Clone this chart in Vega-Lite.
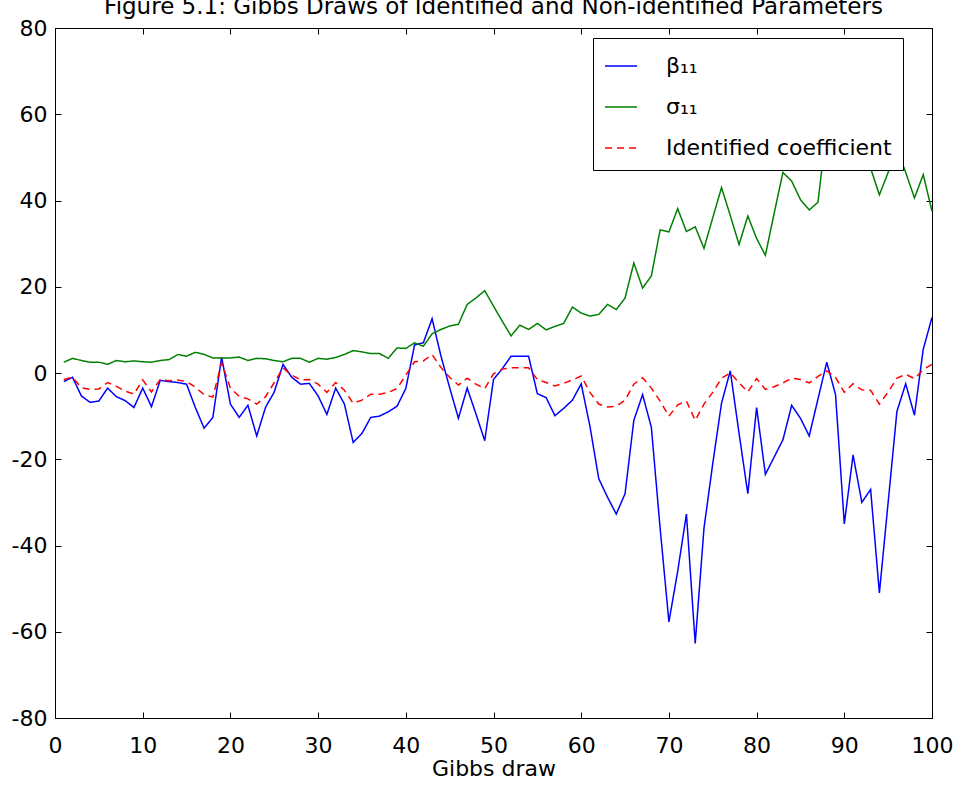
{
  "$schema": "https://vega.github.io/schema/vega-lite/v6.json",
  "width": 877,
  "height": 690,
  "autosize": {"type": "none"},
  "padding": {"left": 55, "top": 28, "right": 28, "bottom": 77},
  "background": "white",
  "title": {"text": "Figure 5.1: Gibbs Draws of Identified and Non-identified Parameters", "fontSize": 23, "font": "DejaVu Sans", "fontWeight": "normal", "color": "black", "offset": 9, "dy": 11, "anchor": "middle"},
  "datasets": {
    "beta": [
      {"draw":1,"value":-2.0},{"draw":2,"value":-1.0},{"draw":3,"value":-5.3},{"draw":4,"value":-6.8},{"draw":5,"value":-6.5},{"draw":6,"value":-3.5},{"draw":7,"value":-5.5},{"draw":8,"value":-6.4},{"draw":9,"value":-8.0},{"draw":10,"value":-3.5},
      {"draw":11,"value":-7.8},{"draw":12,"value":-1.7},{"draw":13,"value":-2.0},{"draw":14,"value":-2.2},{"draw":15,"value":-2.6},{"draw":16,"value":-8.0},{"draw":17,"value":-12.8},{"draw":18,"value":-10.3},{"draw":19,"value":3.7},{"draw":20,"value":-7.2},
      {"draw":21,"value":-10.3},{"draw":22,"value":-7.5},{"draw":23,"value":-14.6},{"draw":24,"value":-8.0},{"draw":25,"value":-4.4},{"draw":26,"value":2.0},{"draw":27,"value":-1.0},{"draw":28,"value":-2.6},{"draw":29,"value":-2.4},{"draw":30,"value":-5.3},
      {"draw":31,"value":-9.6},{"draw":32,"value":-3.5},{"draw":33,"value":-7.2},{"draw":34,"value":-16.1},{"draw":35,"value":-14.0},{"draw":36,"value":-10.3},{"draw":37,"value":-10.0},{"draw":38,"value":-9.0},{"draw":39,"value":-7.7},{"draw":40,"value":-3.6},
      {"draw":41,"value":6.5},{"draw":42,"value":7.0},{"draw":43,"value":12.6},{"draw":44,"value":4.0},{"draw":45,"value":-3.4},{"draw":46,"value":-10.5},{"draw":47,"value":-3.5},{"draw":48,"value":-9.5},{"draw":49,"value":-15.7},{"draw":50,"value":-1.5},
      {"draw":51,"value":1.0},{"draw":52,"value":3.9},{"draw":53,"value":3.9},{"draw":54,"value":3.9},{"draw":55,"value":-4.8},{"draw":56,"value":-5.7},{"draw":57,"value":-9.9},{"draw":58,"value":-8.2},{"draw":59,"value":-6.3},{"draw":60,"value":-2.5},
      {"draw":61,"value":-12.4},{"draw":62,"value":-24.5},{"draw":63,"value":-28.8},{"draw":64,"value":-32.7},{"draw":65,"value":-28.0},{"draw":66,"value":-11.0},{"draw":67,"value":-5.0},{"draw":68,"value":-12.6},{"draw":69,"value":-36.0},{"draw":70,"value":-57.7},
      {"draw":71,"value":-46.0},{"draw":72,"value":-32.7},{"draw":73,"value":-62.7},{"draw":74,"value":-36.0},{"draw":75,"value":-21.0},{"draw":76,"value":-7.0},{"draw":77,"value":0.5},{"draw":78,"value":-14.0},{"draw":79,"value":-28.0},{"draw":80,"value":-8.0},
      {"draw":81,"value":-23.5},{"draw":82,"value":-19.5},{"draw":83,"value":-15.5},{"draw":84,"value":-7.5},{"draw":85,"value":-10.5},{"draw":86,"value":-14.6},{"draw":87,"value":-6.0},{"draw":88,"value":2.5},{"draw":89,"value":-5.0},{"draw":90,"value":-35.0},
      {"draw":91,"value":-19.0},{"draw":92,"value":-30.0},{"draw":93,"value":-27.0},{"draw":94,"value":-51.0},{"draw":95,"value":-30.0},{"draw":96,"value":-8.9},{"draw":97,"value":-2.5},{"draw":98,"value":-9.8},{"draw":99,"value":5.5},{"draw":100,"value":12.9}
    ],
    "sigma": [
      {"draw":1,"value":2.5},{"draw":2,"value":3.4},{"draw":3,"value":2.9},{"draw":4,"value":2.5},{"draw":5,"value":2.5},{"draw":6,"value":2.0},{"draw":7,"value":2.9},{"draw":8,"value":2.6},{"draw":9,"value":2.8},{"draw":10,"value":2.6},
      {"draw":11,"value":2.5},{"draw":12,"value":2.9},{"draw":13,"value":3.1},{"draw":14,"value":4.3},{"draw":15,"value":3.9},{"draw":16,"value":4.8},{"draw":17,"value":4.3},{"draw":18,"value":3.5},{"draw":19,"value":3.5},{"draw":20,"value":3.5},
      {"draw":21,"value":3.7},{"draw":22,"value":2.9},{"draw":23,"value":3.4},{"draw":24,"value":3.3},{"draw":25,"value":2.9},{"draw":26,"value":2.6},{"draw":27,"value":3.4},{"draw":28,"value":3.4},{"draw":29,"value":2.5},{"draw":30,"value":3.4},
      {"draw":31,"value":3.2},{"draw":32,"value":3.6},{"draw":33,"value":4.3},{"draw":34,"value":5.2},{"draw":35,"value":4.9},{"draw":36,"value":4.5},{"draw":37,"value":4.5},{"draw":38,"value":3.4},{"draw":39,"value":5.8},{"draw":40,"value":5.7},
      {"draw":41,"value":7.0},{"draw":42,"value":6.2},{"draw":43,"value":9.1},{"draw":44,"value":10.1},{"draw":45,"value":10.9},{"draw":46,"value":11.3},{"draw":47,"value":15.9},{"draw":48,"value":17.4},{"draw":49,"value":19.1},{"draw":50,"value":15.5},
      {"draw":51,"value":12.0},{"draw":52,"value":8.6},{"draw":53,"value":11.1},{"draw":54,"value":10.1},{"draw":55,"value":11.5},{"draw":56,"value":10.0},{"draw":57,"value":10.8},{"draw":58,"value":11.5},{"draw":59,"value":15.3},{"draw":60,"value":13.9},
      {"draw":61,"value":13.2},{"draw":62,"value":13.6},{"draw":63,"value":15.9},{"draw":64,"value":14.7},{"draw":65,"value":17.4},{"draw":66,"value":25.5},{"draw":67,"value":19.7},{"draw":68,"value":22.5},{"draw":69,"value":33.2},{"draw":70,"value":32.7},
      {"draw":71,"value":38.1},{"draw":72,"value":32.8},{"draw":73,"value":33.9},{"draw":74,"value":28.9},{"draw":75,"value":36.0},{"draw":76,"value":43.0},{"draw":77,"value":36.5},{"draw":78,"value":29.8},{"draw":79,"value":36.4},{"draw":80,"value":31.2},
      {"draw":81,"value":27.3},{"draw":82,"value":37.0},{"draw":83,"value":46.5},{"draw":84,"value":44.5},{"draw":85,"value":40.2},{"draw":86,"value":37.8},{"draw":87,"value":39.6},{"draw":88,"value":57.0},{"draw":89,"value":54.0},{"draw":90,"value":51.0},
      {"draw":91,"value":56.0},{"draw":92,"value":54.0},{"draw":93,"value":47.5},{"draw":94,"value":41.3},{"draw":95,"value":46.5},{"draw":96,"value":52.0},{"draw":97,"value":46.5},{"draw":98,"value":40.6},{"draw":99,"value":46.0},{"draw":100,"value":37.5}
    ],
    "ident": [
      {"draw":1,"value":-1.5},{"draw":2,"value":-1.0},{"draw":3,"value":-3.4},{"draw":4,"value":-3.8},{"draw":5,"value":-3.7},{"draw":6,"value":-2.2},{"draw":7,"value":-3.1},{"draw":8,"value":-4.2},{"draw":9,"value":-4.9},{"draw":10,"value":-1.6},
      {"draw":11,"value":-4.4},{"draw":12,"value":-1.5},{"draw":13,"value":-1.8},{"draw":14,"value":-1.6},{"draw":15,"value":-2.0},{"draw":16,"value":-3.3},{"draw":17,"value":-5.0},{"draw":18,"value":-5.6},{"draw":19,"value":2.4},{"draw":20,"value":-3.5},
      {"draw":21,"value":-5.4},{"draw":22,"value":-6.0},{"draw":23,"value":-7.2},{"draw":24,"value":-5.5},{"draw":25,"value":-2.2},{"draw":26,"value":1.2},{"draw":27,"value":-0.5},{"draw":28,"value":-1.6},{"draw":29,"value":-1.5},{"draw":30,"value":-2.6},
      {"draw":31,"value":-4.5},{"draw":32,"value":-2.2},{"draw":33,"value":-4.0},{"draw":34,"value":-7.0},{"draw":35,"value":-6.3},{"draw":36,"value":-4.9},{"draw":37,"value":-4.9},{"draw":38,"value":-4.5},{"draw":39,"value":-3.6},{"draw":40,"value":-0.5},
      {"draw":41,"value":2.6},{"draw":42,"value":2.8},{"draw":43,"value":4.3},{"draw":44,"value":1.3},{"draw":45,"value":-1.0},{"draw":46,"value":-2.8},{"draw":47,"value":-1.2},{"draw":48,"value":-2.6},{"draw":49,"value":-3.6},{"draw":50,"value":-0.2},
      {"draw":51,"value":0.9},{"draw":52,"value":1.2},{"draw":53,"value":1.2},{"draw":54,"value":1.2},{"draw":55,"value":-1.5},{"draw":56,"value":-2.2},{"draw":57,"value":-3.0},{"draw":58,"value":-2.4},{"draw":59,"value":-1.6},{"draw":60,"value":-0.7},
      {"draw":61,"value":-4.5},{"draw":62,"value":-7.2},{"draw":63,"value":-7.9},{"draw":64,"value":-7.7},{"draw":65,"value":-6.3},{"draw":66,"value":-2.6},{"draw":67,"value":-1.1},{"draw":68,"value":-3.5},{"draw":69,"value":-6.5},{"draw":70,"value":-10.0},
      {"draw":71,"value":-7.4},{"draw":72,"value":-6.5},{"draw":73,"value":-11.0},{"draw":74,"value":-7.2},{"draw":75,"value":-4.5},{"draw":76,"value":-1.2},{"draw":77,"value":0.0},{"draw":78,"value":-2.3},{"draw":79,"value":-4.4},{"draw":80,"value":-1.3},
      {"draw":81,"value":-3.8},{"draw":82,"value":-3.2},{"draw":83,"value":-2.3},{"draw":84,"value":-1.2},{"draw":85,"value":-1.5},{"draw":86,"value":-2.3},{"draw":87,"value":-0.8},{"draw":88,"value":0.5},{"draw":89,"value":-1.0},{"draw":90,"value":-4.5},
      {"draw":91,"value":-2.5},{"draw":92,"value":-3.9},{"draw":93,"value":-4.0},{"draw":94,"value":-7.2},{"draw":95,"value":-4.4},{"draw":96,"value":-1.2},{"draw":97,"value":-0.3},{"draw":98,"value":-1.3},{"draw":99,"value":0.8},{"draw":100,"value":2.0}
    ]
  },
  "layer": [
    {
      "encoding": {
        "x": {"field": "draw", "type": "quantitative", "scale": {"domain": [0, 100], "nice": false, "zero": false},
          "axis": {"orient": "bottom", "title": "Gibbs draw", "values": [0,10,20,30,40,50,60,70,80,90,100], "tickSize": -6, "labelPadding": 23, "titlePadding": 2, "grid": false}},
        "y": {"field": "value", "type": "quantitative", "scale": {"domain": [-80, 80], "nice": false},
          "axis": {"orient": "left", "title": null, "values": [-80,-60,-40,-20,0,20,40,60,80], "tickSize": -6, "labelPadding": 14, "grid": false, "labelExpr": "replace(datum.label, '−', '-')"}}
      },
      "layer": [
        {
          "data": {"name": "beta"},
          "mark": {"type": "line", "strokeWidth": 1.5},
          "encoding": {
            "color": {"datum": "β₁₁", "type": "nominal", "scale": {"domain": ["β₁₁", "σ₁₁", "Identified coefficient"], "range": ["#0000ff", "#008000", "#ff0000"]}, "legend": {"title": null}},
            "strokeDash": {"datum": "β₁₁", "type": "nominal", "scale": {"domain": ["β₁₁", "σ₁₁", "Identified coefficient"], "range": [[1, 0], [1, 0], [7, 5]]}, "legend": {"title": null}}
          }
        },
        {
          "data": {"name": "sigma"},
          "mark": {"type": "line", "strokeWidth": 1.5},
          "encoding": {
            "color": {"datum": "σ₁₁", "type": "nominal"},
            "strokeDash": {"datum": "σ₁₁", "type": "nominal"}
          }
        },
        {
          "data": {"name": "ident"},
          "mark": {"type": "line", "strokeWidth": 1.5},
          "encoding": {
            "color": {"datum": "Identified coefficient", "type": "nominal"},
            "strokeDash": {"datum": "Identified coefficient", "type": "nominal"}
          }
        }
      ]
    },
    {
      "data": {"name": "ident"},
      "mark": {"type": "point", "opacity": 0},
      "encoding": {
        "x": {"field": "draw", "type": "quantitative", "axis": {"orient": "top", "labels": false, "title": null, "values": [0,10,20,30,40,50,60,70,80,90,100], "tickSize": -6, "grid": false}},
        "y": {"field": "value", "type": "quantitative", "axis": {"orient": "right", "labels": false, "title": null, "values": [-80,-60,-40,-20,0,20,40,60,80], "tickSize": -6, "grid": false}}
      }
    }
  ],
  "resolve": {"axis": {"x": "independent", "y": "independent"}},
  "config": {
    "view": {"stroke": "black", "strokeWidth": 1},
    "axis": {"domainColor": "black", "tickColor": "black", "labelColor": "black", "labelFont": "DejaVu Sans", "labelFontSize": 22, "titleFont": "DejaVu Sans", "titleFontSize": 22, "titleFontWeight": "normal", "titleColor": "black", "labelFlush": false, "labelOverlap": false},
    "legend": {"orient": "none", "legendX": 538, "legendY": 10, "strokeColor": "black", "fillColor": "white", "padding": 11, "rowPadding": 13, "symbolType": "stroke", "symbolSize": 1024, "symbolStrokeWidth": 1.5, "labelOffset": 28, "labelFont": "DejaVu Sans", "labelFontSize": 22, "labelColor": "black", "labelLimit": 400}
  }
}
